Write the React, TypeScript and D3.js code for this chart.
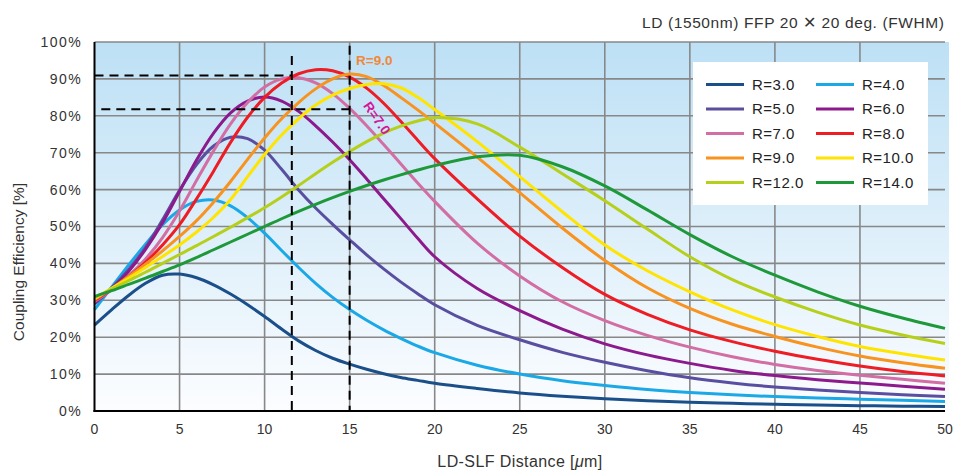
import React from 'react'
import * as d3 from 'd3'

// LD-SLF distance (um), shared by all series
const distance = [0, 1, 2, 3, 4, 5, 6, 7, 8, 9, 10, 11, 12, 13, 14, 15, 16, 17, 18, 19, 20, 22.5, 25, 27.5, 30, 32.5, 35, 37.5, 40, 42.5, 45, 47.5, 50]

// coupling efficiency (%) per lens radius
const r3 = [23.3, 27.4, 31.3, 34.6, 36.8, 37.1, 36.1, 34.2, 31.7, 28.8, 25.6, 22.2, 19, 16.4, 14.3, 12.7, 11.3, 10.1, 9.1, 8.3, 7.5, 6.1, 4.9, 4, 3.3, 2.8, 2.4, 2.1, 1.8, 1.6, 1.45, 1.3, 1.2]
const r4 = [27.5, 33.5, 39.5, 45.2, 50.5, 54.5, 56.8, 57.2, 55.6, 52.4, 48.2, 43.5, 38.9, 34.6, 30.8, 27.5, 24.6, 22, 19.7, 17.6, 15.8, 12.4, 10, 8.2, 6.9, 5.8, 5, 4.4, 3.9, 3.5, 3.2, 2.9, 2.6]
const r5 = [29, 33.3, 38.3, 44.3, 51.8, 59.8, 66.8, 71.8, 74.2, 73.8, 70.7, 65.5, 59.9, 55, 50.6, 46.4, 42.3, 38.5, 35, 31.8, 28.8, 23.2, 19.3, 15.9, 13.2, 10.9, 9, 7.6, 6.5, 5.7, 5, 4.4, 3.9]
const r6 = [29.4, 33, 37.8, 43.8, 51, 59.5, 68, 75.3, 80.8, 84, 85.1, 84, 81.2, 77.3, 72.9, 68.1, 62.9, 57.5, 52.2, 46.8, 41.8, 33.2, 27.2, 22.2, 18.2, 15.2, 12.9, 11, 9.6, 8.5, 7.6, 6.7, 5.9]
const r7 = [29.7, 32.8, 36.6, 41.2, 47, 54.2, 62.5, 70.5, 77.8, 83.6, 87.8, 90, 90.3, 88.9, 86, 82, 77.3, 72.2, 67, 61.8, 56.8, 45.5, 36.6, 29.6, 24.5, 20.5, 17.3, 14.7, 12.6, 11, 9.7, 8.6, 7.5]
const r8 = [30, 33, 36.4, 40.3, 45, 50.5, 57.5, 65, 72.8, 79.6, 85, 88.9, 91.4, 92.5, 92.2, 90.5, 87.5, 83.4, 78.5, 73.4, 68.4, 57.5, 47.4, 38.9, 31.6, 26.2, 22, 18.8, 16.2, 14, 12.2, 10.7, 9.5]
const r9 = [30.2, 33.2, 36.4, 39.8, 43.4, 47.3, 51.6, 56.6, 62.2, 68.2, 74, 79.2, 83.6, 87.3, 90, 91.3, 90.6, 88.2, 85, 81.6, 78, 68.8, 59.2, 49.6, 40.8, 33.4, 27.8, 23.5, 20.2, 17.3, 14.9, 13.1, 11.6]
const r10 = [30.5, 33.2, 36, 38.9, 41.9, 45, 48.5, 52.5, 57.3, 63.5, 69.5, 74.8, 79.2, 82.9, 85.6, 87.4, 88.5, 88.7, 87.6, 85, 81.7, 73, 63.5, 54, 45, 38, 32.3, 27.4, 23.4, 20.2, 17.5, 15.5, 13.8]
const r12 = [30.8, 33, 35.3, 37.6, 40, 42.4, 44.8, 47.3, 49.8, 52.4, 55.1, 58, 61.1, 64.3, 67.4, 70.3, 73, 75.3, 77.2, 78.6, 79.5, 77.8, 71.5, 64.3, 57, 49.3, 41.8, 35.6, 30.9, 26.8, 23.3, 20.6, 18.3]
const r14 = [31, 32.6, 34.3, 36, 37.8, 39.6, 41.6, 43.7, 45.8, 47.9, 50, 52.1, 54.1, 56, 57.8, 59.5, 61.1, 62.6, 64, 65.3, 66.5, 68.9, 69.3, 66.2, 61, 54.5, 47.8, 41.8, 36.8, 32.3, 28.4, 25.2, 22.4]

const seriesValues = [r3, r4, r5, r6, r7, r8, r9, r10, r12, r14]
const seriesNames = ['R=3.0', 'R=4.0', 'R=5.0', 'R=6.0', 'R=7.0', 'R=8.0', 'R=9.0', 'R=10.0', 'R=12.0', 'R=14.0']
const seriesColors = ['#1b4f8a', '#1ba8e6', '#5a4ea0', '#8c1a8c', '#d26ea3', '#ee1c24', '#f7931e', '#ffe400', '#b6cf1a', '#1e9939']

const xTicks = [0, 5, 10, 15, 20, 25, 30, 35, 40, 45, 50]
const yTicks = [0, 10, 20, 30, 40, 50, 60, 70, 80, 90, 100]

// reading guides (distance, efficiency)
const guideX = [11.6, 15]
const guideY = [90.9, 81.8]

const font = '"Liberation Sans", Arial, sans-serif'

export default function App() {
  const x = d3.scaleLinear().domain([0, 50]).range([94.5, 945])
  const y = d3.scaleLinear().domain([0, 100]).range([411, 42])

  const line = d3
    .line<number>()
    .x((d, i) => x(distance[i]))
    .y((d) => y(d))
    .curve(d3.curveCatmullRom.alpha(0.5))

  return (
    <svg
      width={954}
      height={472}
      style={{ position: 'absolute', left: 0, top: 0, background: '#fff' }}
      fontFamily={font}
    >
      <defs>
        <linearGradient id="bg" x1="0" y1="0" x2="0" y2="1">
          <stop offset="0%" stopColor="#bde0f5" />
          <stop offset="100%" stopColor="#fcfdff" />
        </linearGradient>
      </defs>

      <text x={642} y={28} fontSize={15.5} fill="#333" textLength={302} lengthAdjust="spacing">
        LD (1550nm) FFP 20 ✕ 20 deg. (FWHM)
      </text>

      {/* plot background */}
      <rect x={x(0)} y={y(100)} width={x(50) - x(0) + 4} height={y(0) - y(100)} fill="url(#bg)" />

      {/* grid */}
      {xTicks.slice(1, -1).map((t) => (
        <line key={'gx' + t} x1={x(t)} x2={x(t)} y1={y(100)} y2={y(0)} stroke="#888" strokeWidth={1.6} />
      ))}
      {yTicks.slice(1).map((t) => (
        <line key={'gy' + t} x1={x(0)} x2={x(50)} y1={y(t)} y2={y(t)} stroke="#888" strokeWidth={1.6} />
      ))}

      {/* curves */}
      {seriesValues.map((vals, i) => (
        <path key={seriesNames[i]} d={line(vals) || ''} fill="none" stroke={seriesColors[i]} strokeWidth={3} />
      ))}

      {/* dashed guides */}
      <g stroke="#000" strokeWidth={2} strokeDasharray="9,6" fill="none">
        <line x1={x(guideX[0])} x2={x(guideX[0])} y1={y(96.2)} y2={y(0)} />
        <line x1={x(guideX[1])} x2={x(guideX[1])} y1={y(99)} y2={y(0)} />
        <line x1={x(0)} x2={x(guideX[0])} y1={y(guideY[0])} y2={y(guideY[0])} />
        <line x1={x(0.4)} x2={x(guideX[1])} y1={y(guideY[1])} y2={y(guideY[1])} />
      </g>

      {/* axes */}
      <line x1={x(0)} x2={x(0)} y1={y(100)} y2={y(0) + 1} stroke="#000" strokeWidth={2} />
      <line x1={x(0) - 1} x2={x(50)} y1={y(0)} y2={y(0)} stroke="#000" strokeWidth={2} />

      {yTicks.map((t) => (
        <text key={'ly' + t} x={82} y={y(t)} dy="0.35em" textAnchor="end" fontSize={14} letterSpacing={1.4} fill="#333">
          {t + '%'}
        </text>
      ))}
      {xTicks.map((t) => (
        <text key={'lx' + t} x={x(t)} y={434} textAnchor="middle" fontSize={14} fill="#333">
          {t}
        </text>
      ))}

      <text x={520} y={467} textAnchor="middle" fontSize={16} letterSpacing={0.4} fill="#333">
        LD-SLF Distance [<tspan fontStyle="italic">μ</tspan>m]
      </text>
      <text transform="translate(24,262) rotate(-90)" textAnchor="middle" fontSize={15.5} fill="#333">
        Coupling Efficiency [%]
      </text>

      {/* curve annotations */}
      <text x={356} y={65} fontSize={13.5} fontWeight="bold" fill="#f0883a">
        R=9.0
      </text>
      <text transform="translate(377,118) rotate(55)" textAnchor="middle" dy="0.35em" fontSize={13.5} fontWeight="bold" fill="#d4159b">
        R=7.0
      </text>

      {/* legend */}
      <rect x={693} y={62} width={235} height={143} fill="#fff" />
      {seriesNames.map((name, i) => {
        const col = i % 2
        const row = Math.floor(i / 2)
        const lx = col === 0 ? 706 : 816
        const ly = 84.5 + row * 24.5
        return (
          <g key={'lg' + name}>
            <line x1={lx} x2={lx + 38} y1={ly} y2={ly} stroke={seriesColors[i]} strokeWidth={3} />
            <text x={lx + 46} y={ly} dy="0.35em" fontSize={15} letterSpacing={0.5} fill="#222">
              {name}
            </text>
          </g>
        )
      })}
    </svg>
  )
}
